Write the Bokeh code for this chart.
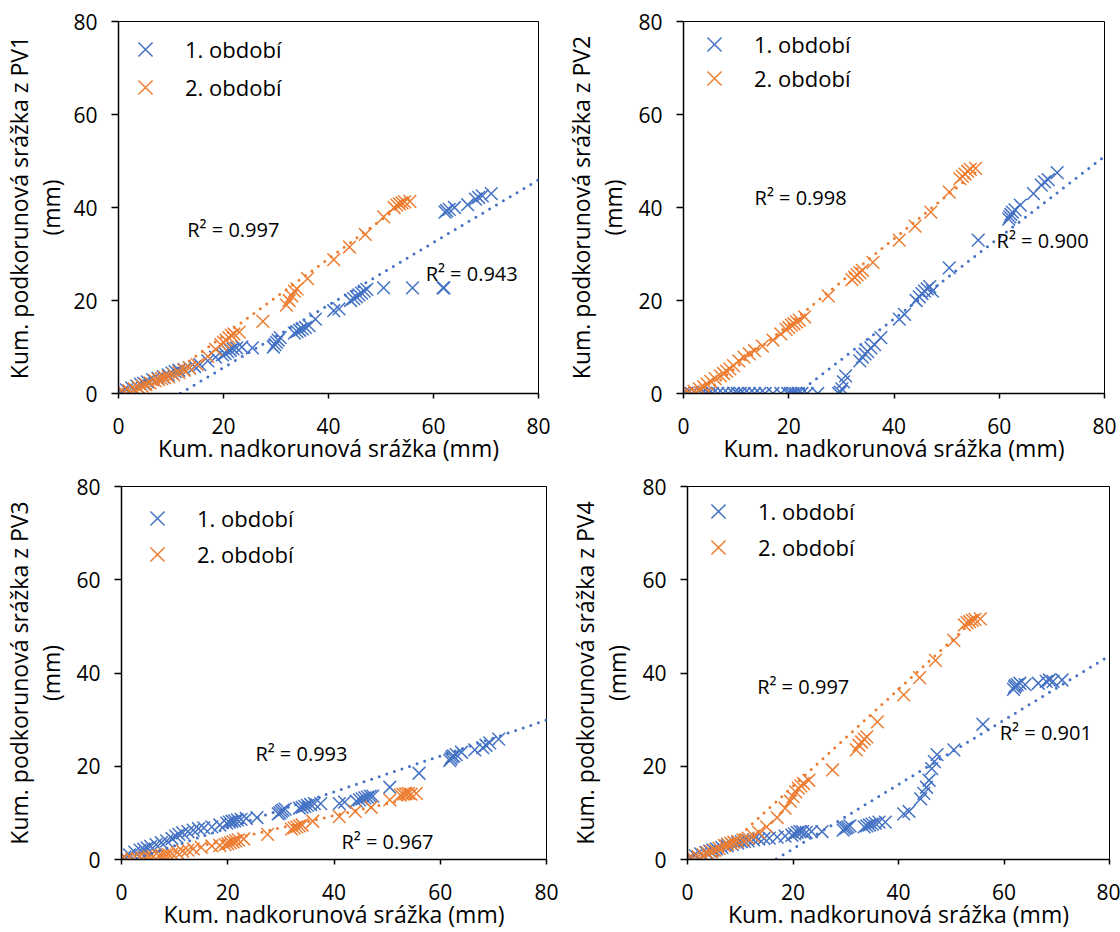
import numpy as np
from bokeh.plotting import figure
from bokeh.layouts import column, row
from bokeh.models import Range1d, FixedTicker, Legend, LegendItem
from bokeh.core.properties import value
from bokeh.embed import file_html
from bokeh.resources import INLINE

FONT = "Open Sans"
BLUE = "#4472C4"
ORANGE = "#ED7D31"

period_labels = ["1. období", "2. období"]
x_title = "Kum. nadkorunová srážka (mm)"
y_title = "Kum. podkorunová srážka z {}\n(mm)"
plot_names = ["PV1", "PV2", "PV3", "PV4"]
axis_ticks = [0, 20, 40, 60, 80]

# cumulative open-field (above-canopy) precipitation, mm - shared by all plots
open_p1 = [0.0, 0.6, 1.5, 2.5, 3.5, 4.2, 4.8, 5.5, 6.5, 7.5, 8.5, 9.5, 10.2, 10.8,
           11.5, 12.5, 13.5, 14.5, 15.5, 17.0, 18.5, 19.8, 20.3, 20.8, 21.3, 21.8,
           22.5, 23.5, 25.5, 29.5, 29.8, 30.1, 30.4, 30.8, 33.5, 34.0, 34.5, 35.0,
           35.6, 36.3, 37.5, 41.0, 42.0, 44.2, 44.8, 45.3, 45.8, 46.3, 46.8, 47.3,
           50.5, 56.0, 61.8, 62.0, 62.2, 62.5, 63.0, 64.0, 66.5, 68.0, 68.6, 69.3, 71.0]
open_p2 = [0.0, 1.0, 2.0, 3.0, 3.8, 4.5, 5.2, 6.0, 7.0, 7.6, 8.2, 8.8, 9.5, 10.5,
           11.5, 12.5, 13.5, 15.0, 17.0, 18.5, 19.5, 20.0, 20.5, 21.0, 21.5, 22.0,
           23.0, 27.5, 32.0, 32.5, 33.0, 33.5, 34.0, 36.0, 41.0, 44.0, 47.0, 50.5,
           52.5, 53.0, 53.5, 54.0, 54.5, 55.5]

# cumulative throughfall per plot, period 1
pv1_p1 = [0, 0.3, 0.8, 1.2, 1.6, 2.0, 2.2, 2.5, 3.0, 3.3, 3.6, 4.0, 4.4, 4.7, 5.0,
          5.2, 5.5, 5.8, 6.2, 7.0, 7.8, 8.3, 8.6, 9.0, 9.3, 9.6, 9.8, 10.0, 9.8,
          10.0, 10.5, 11.0, 11.5, 12.0, 13.0, 13.3, 13.6, 13.9, 14.2, 14.6, 16.0,
          17.8, 18.2, 20.0, 20.4, 20.8, 21.2, 21.6, 22.0, 22.4, 22.7, 22.7, 22.7,
          22.7, 39.0, 39.3, 39.6, 40.0, 40.6, 41.8, 42.2, 42.5, 43.0]
pv2_p1 = [0] * 29 + [0.0, 0.3, 1.0, 2.5, 3.8, 7.0, 7.8, 8.5, 9.0, 9.8, 10.5, 12.0,
                     16.0, 17.0, 20.0, 20.8, 21.5, 22.0, 22.5, 23.0, 22.0, 27.0,
                     33.0, 37.5, 38.0, 38.5, 39.0, 39.5, 40.5, 43.0, 44.8, 45.5,
                     46.0, 47.5]
pv3_p1 = [0, 0.5, 1.0, 1.6, 2.0, 2.2, 2.5, 2.8, 3.2, 3.6, 4.0, 4.5, 5.0, 5.4, 5.7,
          6.0, 6.3, 6.6, 6.8, 7.0, 7.4, 7.8, 8.0, 8.2, 8.3, 8.5, 8.6, 8.8, 9.0,
          9.8, 10.0, 10.3, 10.6, 10.8, 11.0, 11.2, 11.4, 11.6, 11.8, 12.0, 12.0,
          12.0, 12.3, 12.5, 12.8, 13.0, 13.2, 13.4, 13.6, 13.6, 15.5, 18.5, 21.2,
          21.6, 22.0, 22.2, 22.5, 23.0, 23.5, 24.0, 24.5, 25.0, 25.8]
pv4_p1 = [0, 0.3, 0.8, 1.2, 1.5, 1.8, 2.0, 2.3, 2.6, 2.9, 3.2, 3.5, 3.8, 3.9, 4.0,
          4.2, 4.4, 4.5, 4.6, 4.8, 5.0, 5.2, 5.5, 5.8, 6.0, 6.0, 5.8, 6.0, 6.0,
          6.3, 6.6, 6.8, 7.0, 7.2, 7.0, 7.2, 7.4, 7.6, 7.8, 8.0, 8.0, 9.8, 10.3,
          13.0, 14.2, 15.5, 17.0, 19.5, 21.0, 22.5, 23.5, 29.0, 36.5, 37.0, 37.3,
          37.5, 37.8, 37.5, 37.8, 38.2, 38.5, 38.2, 38.5]

# cumulative throughfall per plot, period 2
pv1_p2 = [0, 0.3, 0.6, 1.0, 1.3, 1.6, 1.9, 2.3, 2.7, 3.0, 3.2, 3.4, 3.6, 4.0, 4.5,
          5.0, 5.5, 6.2, 8.0, 9.5, 10.5, 11.0, 11.5, 12.0, 12.5, 12.8, 13.2, 15.5,
          19.0, 20.0, 21.0, 22.0, 22.5, 24.7, 28.8, 31.5, 34.2, 38.0, 40.0, 40.5,
          40.8, 41.0, 41.2, 41.3]
pv2_p2 = [0, 0.2, 0.5, 1.0, 1.5, 2.0, 2.6, 3.2, 3.8, 4.3, 4.8, 5.3, 6.0, 7.0, 7.8,
          8.5, 9.2, 10.2, 11.5, 12.8, 13.8, 14.2, 14.7, 15.0, 15.4, 15.8, 16.5,
          21.0, 24.5, 25.0, 25.5, 26.0, 26.5, 28.2, 33.0, 36.0, 39.0, 43.3, 46.2,
          46.7, 47.2, 47.8, 48.2, 48.4]
pv3_p2 = [0, 0.0, 0.1, 0.2, 0.3, 0.4, 0.5, 0.6, 0.8, 0.9, 1.0, 1.1, 1.2, 1.5, 1.8,
          2.0, 2.3, 2.6, 2.9, 3.0, 3.2, 3.4, 3.6, 3.8, 4.0, 4.2, 4.4, 5.4, 6.5, 6.8,
          7.0, 7.2, 7.4, 8.2, 9.2, 10.3, 11.2, 12.8, 13.8, 14.0, 14.1, 14.2, 14.0,
          14.2]
pv4_p2 = [0, 0.3, 0.6, 1.0, 1.4, 1.7, 2.0, 2.4, 3.0, 3.3, 3.5, 3.7, 3.9, 4.2, 4.6,
          5.0, 5.8, 7.0, 9.0, 11.0, 12.5, 13.5, 14.5, 15.3, 15.8, 16.3, 17.0, 19.2,
          23.5, 24.5, 25.2, 25.8, 26.3, 29.5, 35.3, 39.0, 42.7, 47.0, 50.3, 50.8,
          51.0, 51.3, 51.5, 51.6]

# linear trend lines (slope, intercept) and their coefficients of determination
p1_slope = [0.673, 0.874, 0.385, 0.69]
p1_intercept = [-7.9, -18.9, -0.9, -11.5]
p2_slope = [0.83, 0.922, 0.26, 1.04]
p2_intercept = [-4.2, -3.6, -1.0, -5.1]
r2_p1 = ["0.943", "0.900", "0.993", "0.901"]
r2_p2 = ["0.997", "0.998", "0.967", "0.997"]

series_p1 = [pv1_p1, pv2_p1, pv3_p1, pv4_p1]
series_p2 = [pv1_p2, pv2_p2, pv3_p2, pv4_p2]

# panel frame margins (left, right, top, bottom); panels in a row share top/bottom
frames = [(118, 22, 21, 72), (123, 16, 21, 72), (120, 14, 20, 73), (127, 11, 20, 73)]
x_title_standoff = [-5, -5, -5, -5]
y_title_standoff = [3, 6, 6, 6]
# legend entry centres, px from the frame's top-left corner
legend_centres = [[(27, 29), (27, 67)], [(31, 24), (31, 58)],
                  [(36, 32), (36, 68)], [(31, 25), (31, 61)]]
LEG_GLYPH = 50
r2_pos_p1 = [(58.5, 25.8), (59.5, 33.0), (25.2, 22.7), (59.2, 27.2)]
r2_pos_p2 = [(13.1, 35.2), (13.5, 42.2), (41.4, 3.9), (13.2, 37.2)]


def make_panel(i):
    left, right, top, bottom = frames[i]
    frame_h = 466 - top - bottom
    p = figure(width=560, height=466, output_backend="svg", toolbar_location=None,
               x_range=Range1d(0, 80), y_range=Range1d(0, 80),
               min_border_left=left, min_border_right=right,
               min_border_top=top, min_border_bottom=bottom)
    p.background_fill_color = "white"
    p.border_fill_color = "white"
    p.outline_line_color = "black"
    p.outline_line_width = 1
    p.grid.visible = False

    r1 = p.scatter(open_p1, series_p1[i], marker="x", size=18, line_color=BLUE,
                   line_width=1.5)
    r2 = p.scatter(open_p2, series_p2[i], marker="x", size=18, line_color=ORANGE,
                   line_width=1.5)

    tx1 = np.array([0.0, 80.0])
    p.line(tx1, p1_slope[i] * tx1 + p1_intercept[i], line_color=BLUE,
           line_width=3, line_dash="0 8", line_cap="round")
    tx2 = np.array([0.0, max(open_p2)])
    p.line(tx2, p2_slope[i] * tx2 + p2_intercept[i], line_color=ORANGE,
           line_width=3, line_dash="0 8", line_cap="round")

    labels = ["R² = " + r2_p1[i], "R² = " + r2_p2[i]]
    p.text(x=[r2_pos_p1[i][0], r2_pos_p2[i][0]], y=[r2_pos_p1[i][1], r2_pos_p2[i][1]],
           text=labels, text_font=value(FONT), text_font_size="20px",
           text_color="black", text_align="left", text_baseline="middle")

    for ax in (p.xaxis[0], p.yaxis[0]):
        ax.ticker = FixedTicker(ticks=axis_ticks)
        ax.minor_tick_line_color = None
        ax.major_tick_in = 0
        ax.axis_line_color = "black"
        ax.axis_line_width = 1.5
        ax.major_tick_line_color = "black"
        ax.major_tick_line_width = 1.5
        ax.major_label_text_font = FONT
        ax.major_label_text_font_size = "21px"
        ax.major_label_text_color = "black"
        ax.axis_label_text_font = FONT
        ax.axis_label_text_font_size = "23px"
        ax.axis_label_text_font_style = "normal"
        ax.axis_label_text_color = "black"

    p.xaxis.axis_label = x_title
    p.xaxis.major_tick_out = 5
    p.xaxis.major_label_standoff = 19
    p.xaxis.axis_label_standoff = x_title_standoff[i]

    p.yaxis.axis_label = y_title.format(plot_names[i])
    p.yaxis.major_tick_out = 7
    p.yaxis.major_label_standoff = 14
    p.yaxis.axis_label_standoff = y_title_standoff[i]
    p.yaxis.axis_label_text_line_height = 1.0

    # one legend per period so each entry sits at its own spot
    for (cx, cy), lab, rend in zip(legend_centres[i], period_labels, (r1, r2)):
        half = LEG_GLYPH // 2
        lg = Legend(items=[LegendItem(label=lab, renderers=[rend])],
                    location=(cx - half, frame_h - cy - half),
                    margin=0, padding=0, spacing=0,
                    glyph_width=LEG_GLYPH, glyph_height=LEG_GLYPH,
                    label_standoff=15, label_text_font=FONT,
                    label_text_font_size="22px", label_text_color="black",
                    border_line_color=None, background_fill_alpha=0)
        p.add_layout(lg)
    return p


panels = [make_panel(i) for i in range(4)]
page = column(row(panels[0], panels[1]), row(panels[2], panels[3]))

open("out.html", "w").write(file_html(page, INLINE))
